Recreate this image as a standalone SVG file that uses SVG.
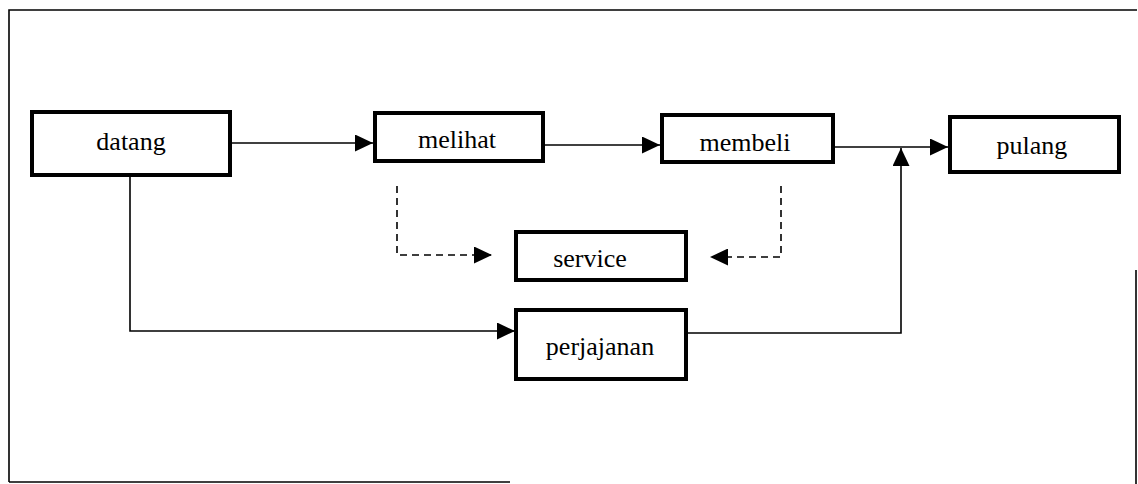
<svg xmlns="http://www.w3.org/2000/svg" width="1138" height="484" viewBox="0 0 1138 484">
<style>
.box{fill:#fff;stroke:#000;stroke-width:4}
.lbl{font-family:"Liberation Serif","Times New Roman",serif;font-size:26px;fill:#000;text-anchor:middle}
.ln{fill:none;stroke:#000;stroke-width:1.6}
.dash{fill:none;stroke:#000;stroke-width:1.6;stroke-dasharray:7 5}
.frame{fill:none;stroke:#000;stroke-width:1.6}
</style>
<defs>
<marker id="ah" markerWidth="18" markerHeight="17" refX="18" refY="8.5" orient="auto" markerUnits="userSpaceOnUse">
<path d="M0,0 L18,8.5 L0,17 Z" fill="#000"/>
</marker>
</defs>
<rect width="1138" height="484" fill="#fff"/>
<g id="frame">
<path class="frame" d="M9,482 L9,10 L1137,10"/>
<path class="frame" d="M9,482 L510,482"/>
<path class="frame" d="M1136,270 L1136,484"/>
</g>
<g id="connectors">
<path class="ln" d="M232,143 L373,143" marker-end="url(#ah)"/>
<path class="ln" d="M544,145 L660,145" marker-end="url(#ah)"/>
<path class="ln" d="M834,147 L948,147" marker-end="url(#ah)"/>
<path class="ln" d="M130,177 L130,331 L515,331" marker-end="url(#ah)"/>
<path class="ln" d="M687,333 L901,333 L901,148" marker-end="url(#ah)"/>
<path class="dash" d="M397,186 L397,255 L492,255" marker-end="url(#ah)"/>
<path class="dash" d="M781,186 L781,257 L710,257" marker-end="url(#ah)"/>
</g>
<g id="datang">
<rect class="box" x="32" y="112" width="198" height="63"/>
<text class="lbl" x="131" y="150">datang</text>
</g>
<g id="melihat">
<rect class="box" x="375" y="113" width="168" height="48"/>
<text class="lbl" x="457" y="148">melihat</text>
</g>
<g id="membeli">
<rect class="box" x="662" y="115" width="171" height="47"/>
<text class="lbl" x="745" y="151">membeli</text>
</g>
<g id="pulang">
<rect class="box" x="950" y="117" width="169" height="55"/>
<text class="lbl" x="1032" y="154">pulang</text>
</g>
<g id="service">
<rect class="box" x="516" y="232" width="170" height="48"/>
<text class="lbl" x="590" y="267">service</text>
</g>
<g id="perjajanan">
<rect class="box" x="516" y="310" width="170" height="69"/>
<text class="lbl" x="600" y="355">perjajanan</text>
</g>
</svg>
